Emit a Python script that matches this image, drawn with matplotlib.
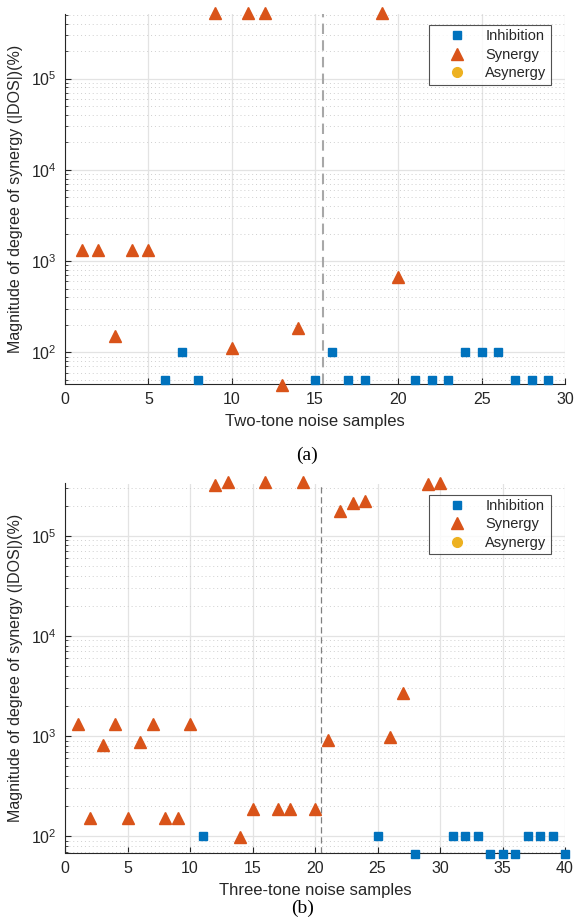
import matplotlib
matplotlib.use('Agg')
import matplotlib.pyplot as plt
from matplotlib.ticker import LogLocator, NullFormatter

plt.rcParams['font.family'] = ['Liberation Sans', 'DejaVu Sans']

# two-tone samples
two_x_inh = [6, 7, 8, 15, 16, 17, 18, 21, 22, 23, 24, 25, 26, 27, 28, 29]
two_y_inh = [50, 100, 50, 50, 100, 50, 50, 50, 50, 50, 100, 100, 100, 50, 50, 50]
two_x_syn = [1, 2, 3, 4, 5, 9, 10, 11, 12, 13, 14, 19, 20]
two_y_syn = [1333, 1333, 152, 1333, 1333, 5.2e5, 113, 5.2e5, 5.2e5, 44, 183, 5.2e5, 671]

# three-tone samples
three_x_inh = [11, 25, 28, 31, 32, 33, 34, 35, 36, 37, 38, 39, 40]
three_y_inh = [100, 100, 66, 100, 100, 100, 66, 66, 66, 100, 100, 100, 66]
three_x_syn = [1, 2, 3, 4, 5, 6, 7, 8, 9, 10, 12, 13, 14, 15, 16, 17, 18, 19, 20,
               21, 22, 23, 24, 26, 27, 29, 30]
three_y_syn = [1333, 153, 808, 1333, 153, 871, 1333, 153, 153, 1333, 3.19e5, 3.44e5,
               98, 186, 3.44e5, 186, 186, 3.44e5, 186, 912, 1.77e5, 2.13e5, 2.21e5,
               985, 2680, 3.25e5, 3.37e5]

blue = '#0072BD'; orange = '#D95319'; yellow = '#EDB120'
dark = '#262626'

W, H = 576, 919
fig = plt.figure(figsize=(W/100, H/100), dpi=100)

def panel(rect, xi, yi, xs, ys, xmax, ylim, split, split_col, split_lw, xlabel, tag, tag_x, tag_y):
    ax = fig.add_axes(rect)
    ax.set_yscale('log')
    ax.plot(xi, yi, 's', color=blue, ms=6, mec=blue, clip_on=False, zorder=4, label='Inhibition')
    ax.plot(xs, ys, '^', color=orange, ms=8, mec=orange, clip_on=False, zorder=4, label='Synergy')
    ax.plot([], [], 'o', color=yellow, ms=7, label='Asynergy')
    ax.axvline(split, color=split_col, lw=split_lw, ls=(0, (5, 3)), zorder=3)
    ax.set_xlim(0, xmax)
    ax.set_ylim(*ylim)
    ax.set_xticks(range(0, xmax + 1, 5))
    ax.yaxis.set_major_locator(LogLocator(base=10, numticks=10))
    ax.yaxis.set_minor_locator(LogLocator(base=10, subs=range(2, 10), numticks=20))
    ax.yaxis.set_minor_formatter(NullFormatter())
    ax.grid(True, which='major', color='#E3E3E3', lw=0.9)
    ax.grid(True, which='minor', axis='y', color='#CFCFCF', lw=0.7, ls=(0, (1, 3)))
    ax.set_axisbelow(True)
    for s in ['top', 'right']:
        ax.spines[s].set_visible(False)
    for s in ['left', 'bottom']:
        ax.spines[s].set_color(dark)
        ax.spines[s].set_linewidth(0.8)
    ax.tick_params(which='both', direction='in', colors=dark, labelsize=11.5)
    ax.tick_params(which='major', length=4, pad=6)
    ax.tick_params(which='minor', length=2.5)
    ax.set_xlabel(xlabel, fontsize=12, color=dark, labelpad=5)
    ax.set_ylabel('Magnitude of degree of synergy (|DOS|)(%)', fontsize=11.5, color=dark, labelpad=6)
    leg = ax.legend(loc='upper right', bbox_to_anchor=(0.972, 0.970), borderaxespad=0,
                    fontsize=10.5, frameon=True, fancybox=False, handlelength=3.2,
                    handletextpad=0.35, borderpad=0.3, labelspacing=0.3)
    leg.get_frame().set_edgecolor(dark)
    leg.get_frame().set_linewidth(0.8)
    for t in leg.get_texts():
        t.set_color(dark)
    fig.text(tag_x, tag_y, tag, ha='center', va='center', fontsize=14,
             family=['Liberation Serif', 'DejaVu Serif'])
    return ax

panel([65/W, 1 - 384/H, 500/W, 370/H], two_x_inh, two_y_inh, two_x_syn, two_y_syn,
      30, (45, 5.1e5), 15.5, '#A8A8A8', 1.5, 'Two-tone noise samples', '(a)', 307/W, 1 - 455/H)

panel([65/W, 1 - 852.5/H, 500/W, 369/H], three_x_inh, three_y_inh, three_x_syn, three_y_syn,
      40, (68.7, 3.32e5), 20.5, '#808080', 0.9, 'Three-tone noise samples', '(b)', 303/W, 1 - 908/H)

fig.savefig('out.png', dpi=100)
